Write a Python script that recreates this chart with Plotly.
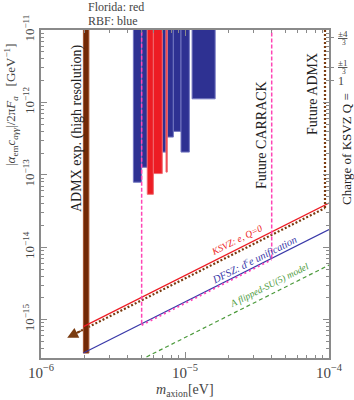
import numpy as np
import plotly.graph_objects as go

# ---------------- data ----------------
# Haloscope exclusion bars (mass range in eV, lower edge of excluded coupling in GeV^-1)
rbf_lo = [4.38e-6, 5.00e-6, 6.95e-6, 7.53e-6, 8.30e-6, 9.38e-6, 1.12e-5]
rbf_hi = [5.00e-6, 5.47e-6, 7.38e-6, 8.30e-6, 9.38e-6, 1.072e-5, 1.62e-5]
rbf_bottom = [7.9e-14, 1.27e-13, 2.06e-13, 3.32e-13, 3.98e-13, 2.06e-13, 1.12e-12]

florida_lo = [5.47e-6, 6.03e-6, 7.38e-6]
florida_hi = [6.03e-6, 6.95e-6, 7.53e-6]
florida_bottom = [5.38e-14, 1.04e-13, 1.09e-13]

bar_top = 1e-10

# ADMX experiment (high resolution)
admx_lo, admx_hi = 1.97e-6, 2.15e-6
admx_bottom = 3.45e-16

# model lines (end points)
ksvz_m = [1.97e-6, 1e-4]
ksvz_g = [8.02e-16, 4.07e-14]
dfsz_m = [1.97e-6, 1e-4]
dfsz_g = [3.45e-16, 1.75e-14]
flipped_m = [4e-6, 1e-4]
flipped_g = [2.26e-16, 5.66e-15]

# future ADMX sensitivity
fadmx_m = [1.6e-6, 9.38e-5]
fadmx_g = [5.92e-16, 3.47e-14]
fadmx_edge_m = 9.38e-5
arrow_tip_m, arrow_tip_g = 1.52e-6, 5.62e-16

# future CARRACK
carrack_lo, carrack_hi = 5e-6, 4e-5
carrack_lo_g, carrack_hi_g = 8.75e-16, 7.0e-15

# KSVZ charge labels on the right axis
charge_vals = [7.8e-12, 3.07e-12, 2.01e-12]
charge_num = ["±4", "±1", "1"]
charge_den = ["3", "3", ""]

x_ticks = [1e-6, 1e-5, 1e-4]
x_ticktext = ["10<sup>−6</sup>", "10<sup>−5</sup>", "10<sup>−4</sup>"]
y_ticks = [1e-15, 1e-14, 1e-13, 1e-12, 1e-11]
y_ticktext = ["10<sup>−15</sup>", "10<sup>−14</sup>", "10<sup>−13</sup>", "10<sup>−12</sup>", "10<sup>−11</sup>"]

# ---------------- styles ----------------
FONT = "Liberation Serif"
BLUE = "#2E3192"
RED = "#ED1C24"
BROWN = "#722906"
DOT_BROWN = "#7A3B10"
PINK = "#FF45B5"
GREEN = "#4C9A3C"
AX = "#8a8a8a"
TXT = "#444444"

fig = go.Figure()

def rect(lo, hi, bottom, top, color, edge):
    fig.add_trace(go.Scatter(
        x=[lo, lo, hi, hi, lo], y=[bottom, top, top, bottom, bottom],
        mode="lines", fill="toself", fillcolor=color,
        line=dict(color=edge, width=1), hoverinfo="skip", showlegend=False))

for lo, hi, b in zip(rbf_lo, rbf_hi, rbf_bottom):
    rect(lo, hi, b, bar_top, BLUE, "#7276c0")
for lo, hi, b in zip(florida_lo, florida_hi, florida_bottom):
    rect(lo, hi, b, bar_top, RED, "#f06a70")

# future ADMX dotted line
fig.add_trace(go.Scatter(x=fadmx_m, y=fadmx_g, mode="lines",
                         line=dict(color=DOT_BROWN, width=2.2, dash="2px,2px"),
                         showlegend=False, hoverinfo="skip"))
fig.add_trace(go.Scatter(x=[fadmx_edge_m, fadmx_edge_m], y=[fadmx_g[1], bar_top], mode="lines",
                         line=dict(color=DOT_BROWN, width=2.2, dash="2px,2px"),
                         showlegend=False, hoverinfo="skip"))

# ADMX bar
rect(admx_lo, admx_hi, admx_bottom, bar_top, BROWN, "#A0522D")

# model lines
fig.add_trace(go.Scatter(x=ksvz_m, y=ksvz_g, mode="lines", line=dict(color=RED, width=1.3),
                         showlegend=False, hoverinfo="skip"))
fig.add_trace(go.Scatter(x=dfsz_m, y=dfsz_g, mode="lines", line=dict(color="#3838A8", width=1.2),
                         showlegend=False, hoverinfo="skip"))
fig.add_trace(go.Scatter(x=flipped_m, y=flipped_g, mode="lines",
                         line=dict(color=GREEN, width=1.2, dash="4px,3px"),
                         showlegend=False, hoverinfo="skip"))

# CARRACK
for m0, g0 in [(carrack_lo, carrack_lo_g), (carrack_hi, carrack_hi_g)]:
    fig.add_trace(go.Scatter(x=[m0, m0], y=[g0, bar_top], mode="lines",
                             line=dict(color=PINK, width=1.5, dash="4px,2px"),
                             showlegend=False, hoverinfo="skip"))
fig.add_trace(go.Scatter(x=[carrack_lo, carrack_hi], y=[carrack_lo_g * 0.96, carrack_hi_g * 0.96],
                         mode="lines", line=dict(color=PINK, width=1.8, dash="2px,3px"),
                         showlegend=False, hoverinfo="skip"))

# invisible trace for right axis
fig.add_trace(go.Scatter(x=[1e-5], y=[1e-12], yaxis="y2", mode="markers",
                         marker=dict(opacity=0), showlegend=False, hoverinfo="skip"))

def minor_vals(d0, d1):
    out = []
    for d in range(d0, d1):
        for k in range(2, 10):
            out.append(k * 10.0 ** d)
    return out

ylog_range = [np.log10(2.95e-16), -11]

fig.update_layout(
    width=354, height=400,
    margin=dict(l=41, r=25, t=30, b=42),
    paper_bgcolor="white", plot_bgcolor="white",
    font=dict(family=FONT, color=TXT, size=13),
    xaxis=dict(type="log", range=[-6, -4], showgrid=False, zeroline=False,
               showline=True, linecolor=AX, linewidth=1.5, mirror="ticks",
               ticks="inside", ticklen=6, tickcolor=AX, tickwidth=1,
               tickvals=x_ticks, ticktext=x_ticktext, tickfont=dict(size=15, color=TXT),
               minor=dict(tickvals=minor_vals(-6, -4), ticks="inside", ticklen=3.5, tickcolor=AX)),
    yaxis=dict(type="log", range=ylog_range, showgrid=False, zeroline=False,
               showline=True, linecolor=AX, linewidth=1.5, mirror="ticks",
               ticks="inside", ticklen=6, tickcolor=AX, tickwidth=1,
               tickvals=y_ticks, ticktext=y_ticktext, tickangle=-90,
               tickfont=dict(size=13, color=TXT),
               minor=dict(tickvals=minor_vals(-16, -11), ticks="inside", ticklen=3.5, tickcolor=AX)),
    yaxis2=dict(type="log", range=ylog_range, overlaying="y", side="right",
                showgrid=False, zeroline=False, showline=False,
                ticks="outside", ticklen=4, tickcolor=AX,
                tickvals=charge_vals, ticktext=["", "", ""]),
)

ann = []
def txt(x, y, s, size=13, angle=0, color=TXT, xanchor="center", yanchor="middle", xref="paper", yref="paper",
        yshift=0, xshift=0):
    ann.append(dict(x=x, y=y, xref=xref, yref=yref, text=s, showarrow=False, textangle=angle,
                    font=dict(size=size, color=color, family=FONT), xanchor=xanchor, yanchor=yanchor,
                    yshift=yshift, xshift=xshift))

W, H, L, T = 288.0, 328.0, 41.0, 30.0
px = lambda p: (p - L) / W
py = lambda p: 1 - (p - T) / H

txt(px(86), py(7), "Florida: red", size=12, xanchor="left")
txt(px(86), py(21), "RBF: blue", size=12, xanchor="left")
txt(px(77), py(128), "ADMX exp. (high resolution)", size=14, angle=-90, color="#222")
txt(px(261), py(135), "Future CARRACK", size=14, angle=-90, color="#222")
txt(px(313), py(94), "Future ADMX", size=14, angle=-90, color="#222")
txt(px(346), py(149), "Charge of KSVZ Q =", size=13, angle=-90, color="#222")
txt(px(185), py(390), "<i>m</i><sub>axion</sub>[eV]", size=14)
txt(px(11), py(105), "|<i>α</i><sub>em</sub><i>c</i><sub><i>aγγ</i></sub>|/2π<i>F</i><sub><i>a</i></sub>   [GeV<sup>−1</sup>]",
    size=13, angle=-90)

# charge labels (stacked fractions)
for v, num, den in zip(charge_vals, charge_num, charge_den):
    if den:
        txt(px(336), np.log10(v), "<span style='text-decoration:underline'>" + num + "</span>", size=9,
            xanchor="left", yref="y", yshift=4)
        txt(px(344), np.log10(v), den, size=7.5, xanchor="center", yref="y", yshift=-4.5)
    else:
        txt(px(336), np.log10(v), num, size=12, xanchor="left", yref="y", yshift=-1)

# line labels
slope_angle = -np.degrees(np.arctan((H / (ylog_range[1] - ylog_range[0])) / (W / 2.0)))
def on_line(m, ms, gs):
    k = (np.log10(gs[1]) - np.log10(gs[0])) / (np.log10(ms[1]) - np.log10(ms[0]))
    return np.log10(gs[0]) + k * (np.log10(m) - np.log10(ms[0]))

txt(np.log10(2.3e-5), on_line(2.3e-5, ksvz_m, ksvz_g), "<i>KSVZ: e, Q=0</i>", size=9.5, angle=slope_angle,
    color=RED, xref="x", yref="y", yshift=9)
txt(np.log10(3.0e-5), on_line(3.0e-5, dfsz_m, dfsz_g), "<i>DFSZ: d<sup>c</sup>e unification</i>", size=10.5,
    angle=slope_angle, color="#3838A8", xref="x", yref="y", yshift=9)
txt(np.log10(3.89e-5), on_line(3.89e-5, flipped_m, flipped_g), "<i>A flipped-SU(5) model</i>", size=9.5,
    angle=slope_angle, color=GREEN, xref="x", yref="y", yshift=9)

# arrow of future ADMX
ann.append(dict(x=np.log10(arrow_tip_m), y=np.log10(arrow_tip_g), xref="x", yref="y",
                ax=15, ay=-7.5, axref="pixel", ayref="pixel", showarrow=True, arrowhead=2,
                arrowsize=1.2, arrowwidth=1.8, arrowcolor=DOT_BROWN, text=""))

fig.update_layout(annotations=ann)
fig.write_html("out.html", config={"displayModeBar": False},
               post_script="document.body.style.margin='0px';")
